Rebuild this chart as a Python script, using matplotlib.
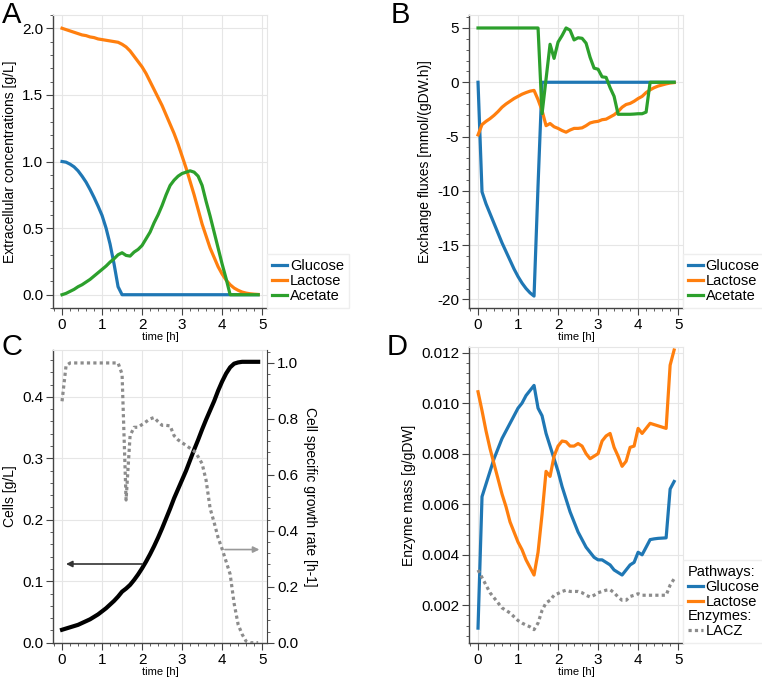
import numpy as np
import matplotlib
matplotlib.use('Agg')
import matplotlib.pyplot as plt
from matplotlib.ticker import MultipleLocator, FormatStrFormatter
from matplotlib.lines import Line2D

plt.rcParams['font.family'] = ['Liberation Sans', 'DejaVu Sans']
plt.rcParams['axes.unicode_minus'] = False

# time grid of the simulation [h]
time = np.round(np.arange(0, 4.95, 0.1), 1)

# A: extracellular concentrations [g/L]
conc_glucose = [1.0, 0.995, 0.98, 0.96, 0.93, 0.89, 0.845, 0.79, 0.73, 0.665,
                0.595, 0.50, 0.38, 0.23, 0.06, 0.0] + [0.0] * 34
conc_lactose = [2.0, 1.99, 1.98, 1.97, 1.96, 1.95, 1.945, 1.935, 1.93, 1.92,
                1.915, 1.91, 1.905, 1.90, 1.895, 1.88, 1.86, 1.83, 1.79, 1.75,
                1.71, 1.66, 1.60, 1.54, 1.48, 1.42, 1.35, 1.28, 1.21, 1.13,
                1.04, 0.95, 0.85, 0.75, 0.64, 0.53, 0.44, 0.35, 0.28, 0.21,
                0.155, 0.11, 0.075, 0.05, 0.033, 0.02, 0.012, 0.007, 0.004, 0.002]
conc_acetate = [0.0, 0.01, 0.025, 0.04, 0.06, 0.075, 0.095, 0.115, 0.14, 0.165,
                0.19, 0.215, 0.245, 0.27, 0.30, 0.315, 0.295, 0.29, 0.32, 0.34,
                0.37, 0.42, 0.47, 0.54, 0.60, 0.67, 0.75, 0.82, 0.86, 0.89,
                0.91, 0.92, 0.93, 0.92, 0.89, 0.82, 0.70, 0.59, 0.47, 0.35,
                0.23, 0.12, 0.0] + [0.0] * 7

# B: exchange fluxes [mmol/(gDW.h)]
flux_glucose = [0.0, -10.1, -11.2, -12.1, -13.0, -13.9, -14.8, -15.6, -16.4, -17.2,
                -17.9, -18.5, -19.0, -19.4, -19.7, -9.5, 0.0] + [0.0] * 33
flux_lactose = [-4.85, -3.9, -3.6, -3.35, -3.05, -2.7, -2.3, -2.0, -1.75, -1.5,
                -1.3, -1.1, -0.95, -0.82, -0.75, -1.6, -2.6, -4.0, -3.8, -4.1,
                -4.25, -4.45, -4.6, -4.4, -4.25, -4.25, -4.2, -4.0, -3.75, -3.65,
                -3.6, -3.45, -3.4, -3.2, -3.0, -2.7, -2.3, -2.05, -1.95, -1.75,
                -1.5, -1.3, -0.95, -0.7, -0.5, -0.35, -0.25, -0.15, -0.07, -0.03]
flux_acetate = [5.0] * 16 + [-2.9, 0.3, 3.5, 2.2, 3.7, 4.3, 5.0, 4.8, 3.9, 4.1,
                             4.05, 3.6, 2.3, 1.3, 1.2, 0.5, 0.45, -0.5, -1.3, -2.95,
                             -2.95, -2.95, -2.95, -2.93, -2.9, -2.9, -2.75, 0.0] + [0.0] * 6

# C: biomass [g/L] and growth rate [h-1]
cells = [0.021, 0.023, 0.025, 0.027, 0.029, 0.032, 0.035, 0.038, 0.042, 0.046,
         0.051, 0.056, 0.062, 0.068, 0.075, 0.083, 0.088, 0.094, 0.102, 0.111,
         0.121, 0.132, 0.144, 0.157, 0.171, 0.186, 0.202, 0.218, 0.235, 0.250,
         0.265, 0.280, 0.297, 0.314, 0.330, 0.347, 0.363, 0.378, 0.393, 0.410,
         0.425, 0.438, 0.448, 0.454, 0.456, 0.457, 0.457, 0.457, 0.457, 0.457]
growth = [0.863, 0.99] + [1.0] * 13 + [0.96, 0.51, 0.74, 0.77, 0.77,
          0.78, 0.79, 0.80, 0.805, 0.79, 0.777, 0.777, 0.775, 0.74, 0.725,
          0.715, 0.705, 0.695, 0.685, 0.665, 0.64, 0.58, 0.48, 0.43, 0.375,
          0.335, 0.29, 0.245, 0.14, 0.065, 0.03, 0.005, 0.0, 0.0, 0.0]

# D: enzyme mass [g/gDW]
enz_glucose = [0.0011, 0.0063, 0.0068, 0.0073, 0.0078, 0.0082, 0.0086, 0.0089, 0.0092, 0.0095,
               0.0098, 0.0100, 0.0103, 0.0105, 0.0107, 0.0098, 0.0095, 0.0088, 0.0083, 0.0078,
               0.0073, 0.0067, 0.0062, 0.0057, 0.0053, 0.0049, 0.0046, 0.0043, 0.0041, 0.0039,
               0.0038, 0.0038, 0.0037, 0.0036, 0.0034, 0.0033, 0.0032, 0.0034, 0.0036, 0.0037,
               0.0041, 0.0040, 0.0043, 0.0046, 0.00463, 0.00465, 0.00466, 0.00467, 0.0066, 0.0069]
enz_lactose = [0.01045, 0.0097, 0.0089, 0.0082, 0.0076, 0.0070, 0.0064, 0.0059, 0.0053, 0.0049,
               0.0045, 0.0042, 0.0038, 0.0035, 0.0032, 0.0041, 0.0056, 0.0073, 0.0071, 0.0079,
               0.0083, 0.0085, 0.00847, 0.0083, 0.0083, 0.0084, 0.0083, 0.0080, 0.0078, 0.0079,
               0.0080, 0.0085, 0.0087, 0.0088, 0.00825, 0.0079, 0.0075, 0.0077, 0.00825, 0.0083,
               0.0090, 0.0088, 0.0090, 0.0092, 0.00915, 0.0091, 0.00905, 0.0090, 0.0115, 0.0121]
enz_lacz = [0.0034, 0.0031, 0.0028, 0.0025, 0.0023, 0.0021, 0.0019, 0.0018, 0.0017, 0.00155,
            0.0014, 0.0013, 0.00122, 0.00115, 0.00104, 0.0013, 0.0018, 0.0021, 0.0022, 0.0024,
            0.00247, 0.00255, 0.0026, 0.00255, 0.00255, 0.00255, 0.0025, 0.0024, 0.00233, 0.0024,
            0.0025, 0.00255, 0.0026, 0.00262, 0.0025, 0.00233, 0.0022, 0.0022, 0.00235, 0.0024,
            0.00246, 0.0024, 0.0024, 0.0024, 0.0024, 0.0024, 0.0024, 0.0024, 0.0028, 0.00305]

blue, orange, green = '#1f77b4', '#ff7f0e', '#2ca02c'
gray = '#8c8c8c'
dark = '#444444'
light = '#e6e6e6'
lw = 2.3
dots = (0, (1, 1))
tick_fs = 11
label_fs = 10


def style(ax, ymajor, yminor, fmt):
    ax.set_xlim(-0.225, 5.125)
    ax.xaxis.set_major_locator(MultipleLocator(1))
    ax.xaxis.set_minor_locator(MultipleLocator(0.2))
    ax.yaxis.set_major_locator(MultipleLocator(ymajor))
    ax.yaxis.set_minor_locator(MultipleLocator(yminor))
    ax.yaxis.set_major_formatter(FormatStrFormatter(fmt))
    ax.grid(True, which='major', color=light, lw=0.8)
    ax.set_axisbelow(True)
    for s in ['left', 'bottom']:
        ax.spines[s].set_color(dark)
        ax.spines[s].set_linewidth(1.0)
    for s in ['top', 'right']:
        ax.spines[s].set_color(light)
        ax.spines[s].set_linewidth(0.8)
    ax.tick_params(which='both', direction='out', color=dark, labelsize=tick_fs,
                   top=False, right=False, pad=2)
    ax.tick_params(which='major', length=5)
    ax.tick_params(which='minor', length=2.5)
    ax.set_xlabel('time [h]', fontsize=8, labelpad=0)


fig = plt.figure(figsize=(7.62, 6.8), dpi=100)
ax_a = fig.add_axes([0.0696, 0.547, 0.281, 0.431])
ax_b = fig.add_axes([0.6155, 0.547, 0.281, 0.431])
ax_c = fig.add_axes([0.0696, 0.054, 0.281, 0.432])
ax_d = fig.add_axes([0.6155, 0.054, 0.281, 0.435])

leg_kw = dict(loc='lower left', bbox_to_anchor=(1.0, 0.0), borderaxespad=0,
              fontsize=10.5, handlelength=1.0, handletextpad=0.2, labelspacing=0.05,
              borderpad=0.35, fancybox=False, edgecolor='#eeeeee', framealpha=1)

# A
ax_a.plot(time, conc_glucose, color=blue, lw=lw, label='Glucose')
ax_a.plot(time, conc_lactose, color=orange, lw=lw, label='Lactose')
ax_a.plot(time, conc_acetate, color=green, lw=lw, label='Acetate')
style(ax_a, 0.5, 0.1, '%.1f')
ax_a.set_ylim(-0.1, 2.1)
ax_a.set_ylabel('Extracellular concentrations [g/L]', fontsize=label_fs)
ax_a.legend(**leg_kw)

# B
ax_b.plot(time, flux_glucose, color=blue, lw=lw, label='Glucose')
ax_b.plot(time, flux_lactose, color=orange, lw=lw, label='Lactose')
ax_b.plot(time, flux_acetate, color=green, lw=lw, label='Acetate')
style(ax_b, 5, 1, '%d')
ax_b.set_ylim(-20.8, 6.2)
ax_b.set_ylabel('Exchange fluxes [mmol/(gDW.h)]', fontsize=label_fs)
ax_b.legend(**leg_kw)

# C
ax_c.plot(time, cells, color='black', lw=3.0)
style(ax_c, 0.1, 0.02, '%.1f')
ax_c.set_ylim(-0.001, 0.477)
ax_c.set_ylabel('Cells [g/L]', fontsize=label_fs)
ax_c.annotate('', xy=(0.03, 0.128), xytext=(2.07, 0.128),
              arrowprops=dict(arrowstyle='-|>', color='#333333', lw=1.2, mutation_scale=9))
ax_c2 = ax_c.twinx()
ax_c2.plot(time, growth, color=gray, lw=2.3, linestyle=dots)
ax_c2.set_ylim(-0.002, 1.048)
ax_c2.yaxis.set_major_locator(MultipleLocator(0.2))
ax_c2.yaxis.set_minor_locator(MultipleLocator(0.04))
ax_c2.yaxis.set_major_formatter(FormatStrFormatter('%.1f'))
ax_c2.spines['right'].set_color(dark)
ax_c2.spines['top'].set_visible(False)
ax_c2.spines['left'].set_visible(False)
ax_c2.spines['bottom'].set_visible(False)
ax_c2.tick_params(which='both', direction='out', color=dark, labelsize=tick_fs, pad=2)
ax_c2.tick_params(which='major', length=5)
ax_c2.tick_params(which='minor', length=2.5)
ax_c2.set_ylabel('Cell specific growth rate [h-1]', fontsize=label_fs, rotation=-90,
                 labelpad=14)
ax_c2.annotate('', xy=(5.0, 0.333), xytext=(4.0, 0.333),
               arrowprops=dict(arrowstyle='-|>', color='#999999', lw=1.2, mutation_scale=9))

# D
ax_d.plot(time, enz_glucose, color=blue, lw=lw)
ax_d.plot(time, enz_lactose, color=orange, lw=lw)
ax_d.plot(time, enz_lacz, color=gray, lw=2.3, linestyle=dots)
style(ax_d, 0.002, 0.0004, '%.3f')
ax_d.set_ylim(0.0005, 0.0122)
ax_d.set_ylabel('Enzyme mass [g/gDW]', fontsize=label_fs)
blank = Line2D([], [], lw=0, alpha=0)
handles_d = [blank,
             Line2D([], [], color=blue, lw=lw),
             Line2D([], [], color=orange, lw=lw),
             blank,
             Line2D([], [], color=gray, lw=2.3, linestyle=dots)]
labels_d = ['Pathways:', 'Glucose', 'Lactose', 'Enzymes:', 'LACZ']
leg_d = ax_d.legend(handles_d, labels_d, **leg_kw)
shift = (leg_kw['handlelength'] + leg_kw['handletextpad']) * leg_kw['fontsize'] * fig.dpi / 72
for i in (0, 3):
    leg_d.get_texts()[i].set_position((-shift, 0))

# panel letters
for x, y, letter in [(0.002, 0.998, 'A'), (0.513, 0.998, 'B'),
                     (0.002, 0.51, 'C'), (0.507, 0.51, 'D')]:
    fig.text(x, y, letter, fontsize=21, va='top', ha='left')

fig.savefig('out.png', dpi=100)
